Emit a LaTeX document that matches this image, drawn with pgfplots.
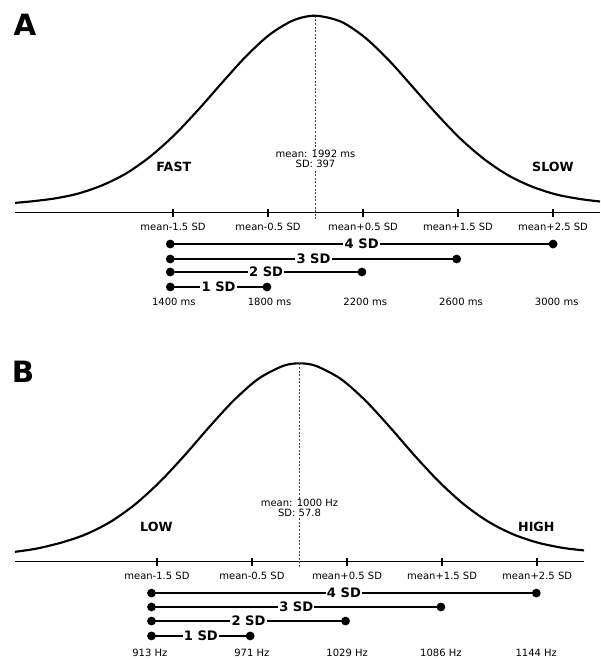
\documentclass[border=0pt]{standalone}
\usepackage{fontspec}
\setmainfont{DejaVu Sans}
\usepackage{pgfplots}
\pgfplotsset{compat=1.18}

\pgfplotsset{
  distrib/.style={
    scale only axis, anchor=north west, clip=false,
    axis x line=middle, axis y line=none,
    x axis line style={-, line width=0.8pt},
    ymin=-0.5, ymax=1, ytick=\empty,
    major tick length=6pt, tick align=center,
    tick style={black, line width=1.1pt},
    xticklabel style={font=\fontsize{7.5}{8}\selectfont, anchor=center, yshift=-7.5pt},
  },
  curve/.style={black, line width=1.6pt, smooth, no markers},
  meanline/.style={black!75, line width=0.6pt, dash pattern=on 1.5pt off 1.2pt, no markers},
  sdbar/.style={black, line width=1.1pt, mark=*, mark size=2.7pt},
}
\tikzset{
  barlab/.style={fill=white, inner xsep=1pt, inner ysep=0pt, font=\bfseries\fontsize{9.8}{9.8}\selectfont},
  small/.style={font=\fontsize{7.5}{7.5}\selectfont},
  side/.style={font=\bfseries\fontsize{9.5}{9.5}\selectfont},
}

\begin{document}
\begin{tikzpicture}
\useasboundingbox (0,0) rectangle (450pt,-495pt);

% panel A: response times
\node[font=\bfseries\fontsize{22}{22}\selectfont] at (18.75pt,-18.75pt) {A};
\begin{axis}[distrib,
    at={(11.25pt,-11.8pt)}, width=438.75pt, height=221.6pt,
    xmin=736, xmax=3181,
    xtick={1396.5,1793.5,2190.5,2587.5,2984.5},
    xticklabels={mean-1.5 SD,mean-0.5 SD,mean+0.5 SD,mean+1.5 SD,mean+2.5 SD}]
\addplot[curve] coordinates {
  (736,0.050) (800,0.057) (900,0.072) (1000,0.097) (1100,0.139) (1200,0.199)
  (1300,0.284) (1400,0.392) (1500,0.520) (1600,0.658) (1700,0.792) (1800,0.904)
  (1900,0.977) (1992,1.000) (2100,0.969) (2200,0.888) (2300,0.772) (2400,0.636)
  (2500,0.499) (2600,0.373) (2700,0.269) (2800,0.188) (2900,0.131) (3000,0.092)
  (3100,0.069) (3181,0.057)};
\addplot[meanline] coordinates {(1992,1) (1992,-0.033)};
\addplot[sdbar] coordinates {(1385,-0.159) (2985,-0.159)} node[barlab,pos=0.5] {4 SD};
\addplot[sdbar] coordinates {(1385,-0.235) (2582,-0.235)} node[barlab,pos=0.5] {3 SD};
\addplot[sdbar] coordinates {(1385,-0.301) (2186,-0.301)} node[barlab,pos=0.5] {2 SD};
\addplot[sdbar] coordinates {(1385,-0.377) (1789,-0.377)} node[barlab,pos=0.5] {1 SD};
\node[small, fill=white, inner sep=0.5pt, align=center] at (axis cs:1992,0.272) {mean: 1992 ms\\SD: 397};
\node[side] at (axis cs:1400,0.232) {FAST};
\node[side] at (axis cs:2984,0.232) {SLOW};
\node[small] at (axis cs:1400,-0.452) {1400 ms};
\node[small] at (axis cs:1800,-0.452) {1800 ms};
\node[small] at (axis cs:2200,-0.452) {2200 ms};
\node[small] at (axis cs:2600,-0.452) {2600 ms};
\node[small] at (axis cs:3000,-0.452) {3000 ms};
\end{axis}

% panel B: pitch
\node[font=\bfseries\fontsize{22}{22}\selectfont] at (17.25pt,-279pt) {B};
\begin{axis}[distrib,
    at={(11.25pt,-272.5pt)}, width=426.75pt, height=223.2pt,
    xmin=827, xmax=1173,
    xtick={913.3,971.1,1028.9,1086.7,1144.5},
    xticklabels={mean-1.5 SD,mean-0.5 SD,mean+0.5 SD,mean+1.5 SD,mean+2.5 SD}]
\addplot[curve] coordinates {
  (827,0.050) (840,0.066) (855,0.096) (870,0.138) (885,0.201) (900,0.289)
  (915,0.402) (930,0.535) (945,0.678) (960,0.813) (975,0.922) (990,0.987)
  (1000,1.000) (1010,0.987) (1025,0.922) (1040,0.813) (1055,0.678) (1070,0.535)
  (1085,0.402) (1100,0.289) (1115,0.201) (1130,0.138) (1145,0.096) (1160,0.070)
  (1173,0.057)};
\addplot[meanline] coordinates {(1000,1) (1000,-0.033)};
\addplot[sdbar] coordinates {(910,-0.158) (1144,-0.158)} node[barlab,pos=0.5] {4 SD};
\addplot[sdbar] coordinates {(910,-0.228) (1086,-0.228)} node[barlab,pos=0.5] {3 SD};
\addplot[sdbar] coordinates {(910,-0.299) (1028,-0.299)} node[barlab,pos=0.5] {2 SD};
\addplot[sdbar] coordinates {(910,-0.374) (970,-0.374)} node[barlab,pos=0.5] {1 SD};
\node[small, fill=white, inner sep=0.5pt, align=center] at (axis cs:1000,0.271) {mean: 1000 Hz\\SD: 57.8};
\node[side] at (axis cs:913,0.175) {LOW};
\node[side] at (axis cs:1144,0.175) {HIGH};
\node[small] at (axis cs:909,-0.459) {913 Hz};
\node[small] at (axis cs:971,-0.459) {971 Hz};
\node[small] at (axis cs:1029,-0.459) {1029 Hz};
\node[small] at (axis cs:1086,-0.459) {1086 Hz};
\node[small] at (axis cs:1144,-0.459) {1144 Hz};
\end{axis}
\end{tikzpicture}
\end{document}
